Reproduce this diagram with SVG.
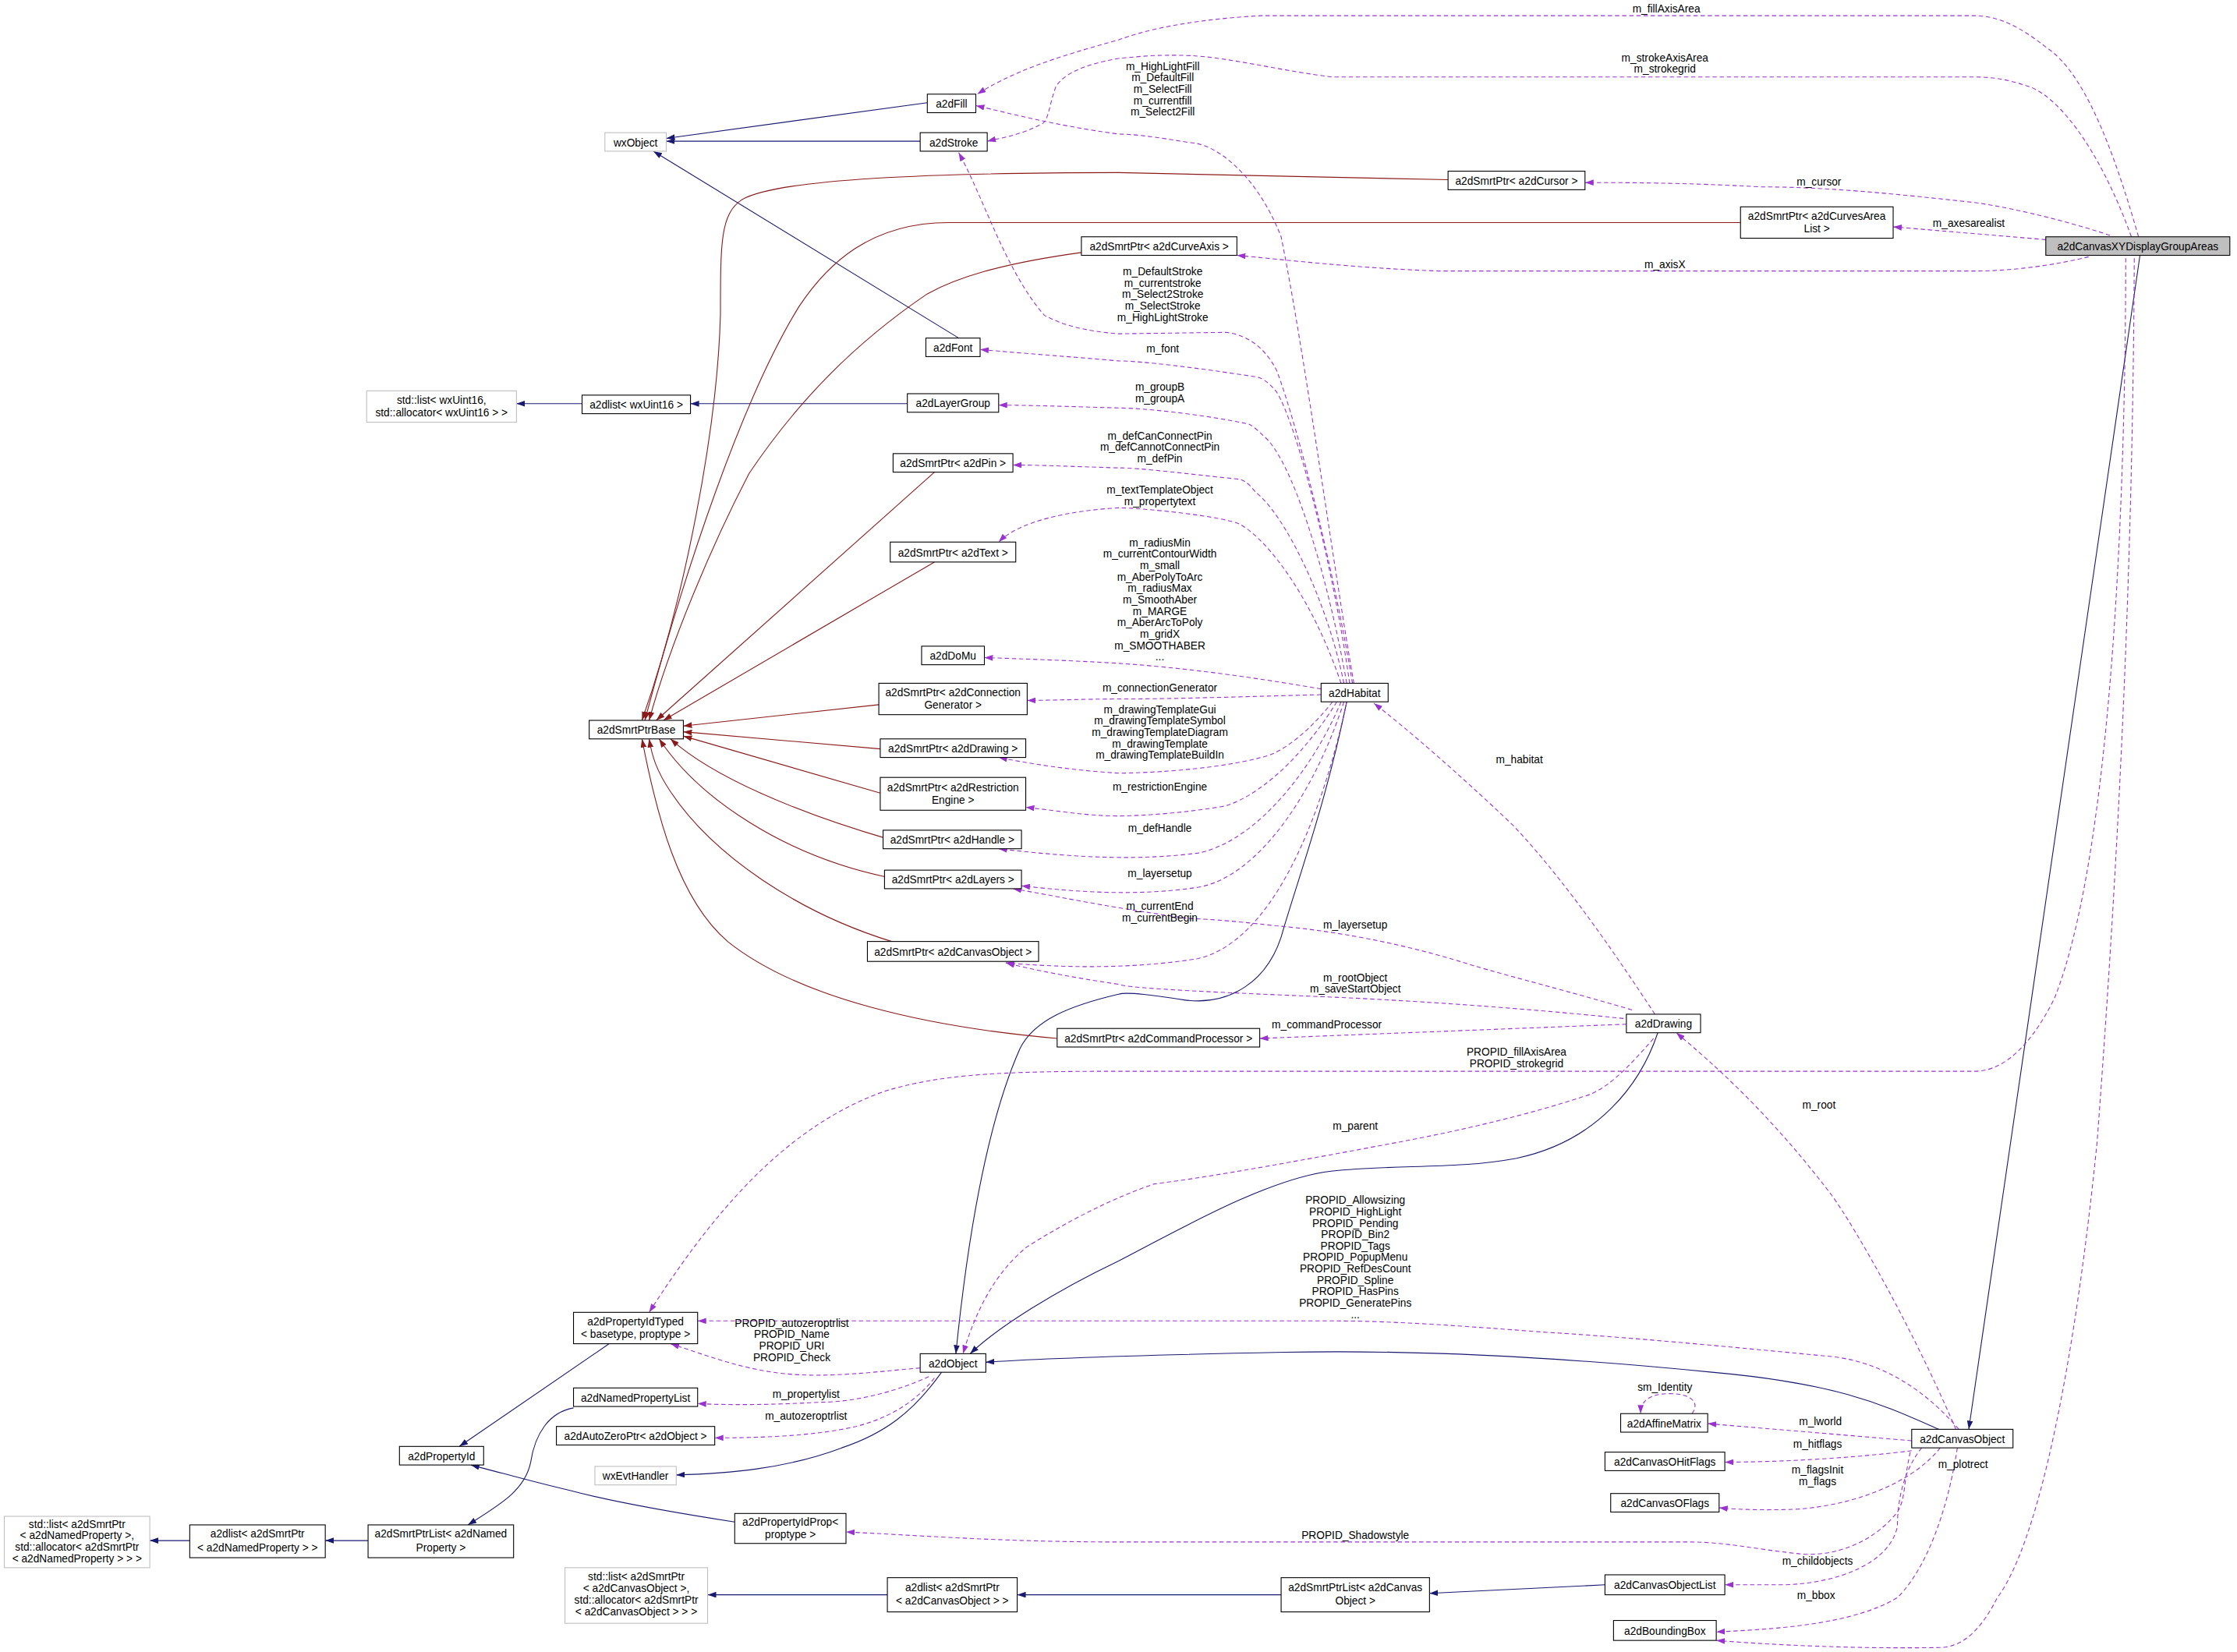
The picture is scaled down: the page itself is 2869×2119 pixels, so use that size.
<svg xmlns="http://www.w3.org/2000/svg" width="2869" height="2119" viewBox="0 0 2869 2119">
<style>
text{font-family:"Liberation Sans",Arial,sans-serif;font-size:7.5px;fill:#000;text-anchor:middle}
.n rect{fill:#fff;stroke:#000;stroke-width:0.6}
.g rect{fill:#fff;stroke:#bfbfbf;stroke-width:0.6}
.h rect{fill:#bfbfbf;stroke:#000;stroke-width:0.6}
.b{fill:none;stroke:#191970;stroke-width:0.6}
.r{fill:none;stroke:#8b1a1a;stroke-width:0.6}
.p{fill:none;stroke:#9a32cd;stroke-width:0.6;stroke-dasharray:3,2}
</style>
<defs>
<marker id="mb" viewBox="0 0 10 7" refX="10" refY="3.5" markerUnits="userSpaceOnUse" markerWidth="6" markerHeight="4.2" orient="auto"><path d="M0,0L10,3.5L0,7z" fill="#191970"/></marker>
<marker id="mr" viewBox="0 0 10 7" refX="10" refY="3.5" markerUnits="userSpaceOnUse" markerWidth="6" markerHeight="4.2" orient="auto"><path d="M0,0L10,3.5L0,7z" fill="#8b1a1a"/></marker>
<marker id="mp" viewBox="0 0 10 7" refX="10" refY="3.5" markerUnits="userSpaceOnUse" markerWidth="6" markerHeight="4.2" orient="auto"><path d="M0,0L10,3.5L0,7z" fill="#9a32cd"/></marker>
</defs>
<rect width="2869" height="2119" fill="#fff"/>
<g transform="scale(1.8297)">
<g id="connectors">
<g marker-end="url(#mb)">
<path class="b" d="M650,72 L467,97"/>
<path class="b" d="M645,99 L467,99"/>
<path class="b" d="M672,237 L458,106"/>
<path class="b" d="M408,283 L362,283"/>
<path class="b" d="M636,283 L484,283"/>
<path class="b" d="M944,492 C930,560 912,610 900,650 C890,690 860,705 830,701 C810,698 790,695 784,697 C750,705 725,715 715,735 C695,780 680,850 670,949"/>
<path class="b" d="M1162,724 C1150,760 1120,800 1063,812 C1020,820 980,816 933,821 C890,826 830,860 784,884 C740,905 700,930 680,949"/>
<path class="b" d="M1359,1002 C1320,985 1290,970 1200,962 C1100,952 1000,946 900,948 C800,950 720,953 691,955"/>
<path class="b" d="M660,962 C640,990 620,1005 590,1015 C550,1030 510,1033 474,1034"/>
<path class="b" d="M1500,179 L1380,1002"/>
<path class="b" d="M427,942 L322,1014"/>
<path class="b" d="M515,1067 C470,1060 430,1053 400,1045 C370,1038 350,1032 330,1027"/>
<path class="b" d="M402,987 C385,990 375,1005 372,1025 C368,1045 350,1055 328,1069"/>
<path class="b" d="M258,1080 L228,1080"/>
<path class="b" d="M133,1080 L105,1080"/>
<path class="b" d="M1125,1111 L1002,1117"/>
<path class="b" d="M898,1118 L713,1118"/>
<path class="b" d="M622,1118 L496,1118"/>
</g>
<g marker-end="url(#mr)">
<path class="r" d="M1015,126 L784,121 C620,121 540,128 520,140 C505,150 505,170 505,220 C503,300 480,420 450,505"/>
<path class="r" d="M1220,156 L665,156 C610,156 580,185 560,215 C520,280 480,400 452,505"/>
<path class="r" d="M758,177 C700,185 670,195 650,206 C600,240 560,280 525,332 C500,380 470,450 455,505"/>
<path class="r" d="M655,331 L460,505"/>
<path class="r" d="M655,394 L465,505"/>
<path class="r" d="M616,494 L479,509"/>
<path class="r" d="M617,525 L479,513"/>
<path class="r" d="M617,556 L479,516"/>
<path class="r" d="M622,588 C560,570 500,545 470,518"/>
<path class="r" d="M622,615 C550,600 490,560 462,518"/>
<path class="r" d="M625,660 C560,640 500,600 470,555 C460,540 457,530 455,518"/>
<path class="r" d="M741,728 C650,720 560,700 510,660 C475,630 460,570 450,518"/>
</g>
<g marker-end="url(#mp)">
<path class="p" d="M1499,166 C1480,100 1460,50 1434,33 C1415,18 1400,11 1384,11 L884,11 C830,14 800,22 784,28 C740,40 710,50 685,66"/>
<path class="p" d="M1494,166 C1470,100 1440,65 1420,60 C1405,55 1395,54 1384,54 L934,54 C900,50 860,40 834,39 C810,38 795,40 784,41 C760,45 745,52 740,61 C735,75 735,85 730,87 C715,95 700,97 692,99"/>
<path class="p" d="M1479,165 C1440,152 1400,144 1384,142 C1330,136 1280,131 1234,131 C1180,128 1140,128 1111,128"/>
<path class="p" d="M1434,168 L1327,159"/>
<path class="p" d="M1464,180 C1440,186 1410,190 1384,190 L1009,190 C950,188 900,182 867,179"/>
<path class="p" d="M1490,181 C1490,350 1480,600 1440,700 C1420,740 1400,751 1384,751 L784,751 C700,751 660,753 620,765 C550,790 500,850 455,920"/>
<path class="p" d="M1496,181 C1495,400 1485,600 1470,800 C1455,950 1430,1080 1400,1120 C1385,1150 1370,1155 1359,1155 C1300,1156 1240,1153 1203,1150"/>
<path class="p" d="M1340,1010 L1197,998"/>
<path class="p" d="M1340,1017 C1300,1022 1250,1025 1209,1025"/>
<path class="p" d="M1360,1015 C1340,1040 1300,1055 1260,1058 C1235,1059 1215,1058 1205,1057"/>
<path class="p" d="M1347,1015 C1335,1030 1330,1050 1330,1070 C1325,1095 1290,1110 1250,1111 L1209,1111"/>
<path class="p" d="M1372,1015 C1365,1060 1350,1100 1330,1120 C1300,1138 1250,1142 1203,1144"/>
<path class="p" d="M1339,1018 C1334,1040 1336,1050 1330,1060 C1310,1085 1280,1092 1259,1089 C1230,1086 1210,1081 1184,1081 L784,1081 C700,1081 640,1076 593,1074"/>
<path class="p" d="M1373,1002 C1350,975 1320,955 1284,951 C1220,945 1150,938 1084,934 C1030,930 980,926 934,926 L489,926"/>
<path class="p" d="M1371,1002 C1340,930 1300,860 1284,838 C1240,780 1200,745 1175,724"/>
<path class="p" d="M1186,991 C1192,983 1185,977 1170,977 C1155,977 1150,983 1150,991"/>
<path class="p" d="M1160,711 C1120,650 1090,610 1061,579 C1020,540 985,510 963,493"/>
<path class="p" d="M1144,708 C1100,695 1060,685 1033,677 C980,660 930,652 894,649 C860,645 840,644 834,644 C770,635 740,628 710,623"/>
<path class="p" d="M1138,714 C1070,707 1000,702 934,699 C860,696 790,693 784,690 C750,685 725,680 705,675"/>
<path class="p" d="M1140,718 L883,728"/>
<path class="p" d="M1159,728 C1140,750 1125,765 1109,769 C1060,785 1010,795 984,800 C920,812 850,825 809,830 C780,840 750,855 720,874 C700,890 685,915 675,949"/>
<path class="p" d="M645,959 C610,962 580,966 550,963 C520,960 495,950 470,942"/>
<path class="p" d="M651,965 C630,975 600,983 575,983 C540,985 510,985 489,984"/>
<path class="p" d="M655,966 C640,985 620,995 600,1000 C570,1007 530,1008 501,1008"/>
<path class="p" d="M949,479 C935,400 915,250 898,166 C880,120 850,100 834,100 C810,96 795,94 784,94 C740,88 710,80 684,74"/>
<path class="p" d="M948,479 C935,400 910,300 895,260 C885,240 870,234 859,233 L784,234 C760,232 745,228 732,221 C705,190 690,140 672,107"/>
<path class="p" d="M946,479 C935,400 910,300 895,275 C888,266 882,264 879,264 C840,258 800,253 784,253 C750,250 720,248 687,245"/>
<path class="p" d="M944,479 C930,400 905,320 885,305 C878,298 875,297 874,297 C840,290 800,286 784,286 C750,285 720,284 700,284"/>
<path class="p" d="M942,479 C930,420 900,360 880,345 C875,338 870,336 869,336 C830,332 800,328 784,328 C750,327 730,326 710,326"/>
<path class="p" d="M940,479 C920,420 890,380 870,368 C860,362 800,356 784,356 C750,358 715,365 700,380"/>
<path class="p" d="M926,483 C880,475 830,468 784,465 C750,463 720,462 690,461"/>
<path class="p" d="M926,487 C880,488 830,490 784,490 C760,490 740,491 720,491"/>
<path class="p" d="M934,492 C920,510 900,528 884,531 C850,540 800,542 784,542 C750,540 720,535 700,531"/>
<path class="p" d="M937,492 C920,520 890,555 859,565 C830,570 800,572 784,572 C760,572 740,568 719,566"/>
<path class="p" d="M940,492 C920,540 880,590 840,598 C800,603 760,602 700,595"/>
<path class="p" d="M942,492 C920,560 880,615 840,622 C800,628 760,626 716,621"/>
<path class="p" d="M944,492 C925,580 890,660 840,672 C790,680 740,678 705,675"/>
</g>
<g id="labels">
<text x="1168" y="9">m_fillAxisArea</text>
<text x="1167" y="43">m_strokeAxisArea</text><text x="1167" y="51">m_strokegrid</text>
<text x="815" y="49">m_HighLightFill</text><text x="815" y="57">m_DefaultFill</text><text x="815" y="65">m_SelectFill</text><text x="815" y="73">m_currentfill</text><text x="815" y="81">m_Select2Fill</text>
<text x="1275" y="130">m_cursor</text>
<text x="1380" y="159">m_axesarealist</text>
<text x="1167" y="188">m_axisX</text>
<text x="815" y="193">m_DefaultStroke</text><text x="815" y="201">m_currentstroke</text><text x="815" y="209">m_Select2Stroke</text><text x="815" y="217">m_SelectStroke</text><text x="815" y="225">m_HighLightStroke</text>
<text x="815" y="247">m_font</text>
<text x="813" y="274">m_groupB</text><text x="813" y="282">m_groupA</text>
<text x="813" y="308">m_defCanConnectPin</text><text x="813" y="316">m_defCannotConnectPin</text><text x="813" y="324">m_defPin</text>
<text x="813" y="346">m_textTemplateObject</text><text x="813" y="354">m_propertytext</text>
<text x="813" y="383">m_radiusMin</text><text x="813" y="391">m_currentContourWidth</text><text x="813" y="399">m_small</text><text x="813" y="407">m_AberPolyToArc</text><text x="813" y="415">m_radiusMax</text><text x="813" y="423">m_SmoothAber</text><text x="813" y="431">m_MARGE</text><text x="813" y="439">m_AberArcToPoly</text><text x="813" y="447">m_gridX</text><text x="813" y="455">m_SMOOTHABER</text><text x="813" y="463">...</text>
<text x="813" y="485">m_connectionGenerator</text>
<text x="813" y="500">m_drawingTemplateGui</text><text x="813" y="508">m_drawingTemplateSymbol</text><text x="813" y="516">m_drawingTemplateDiagram</text><text x="813" y="524">m_drawingTemplate</text><text x="813" y="532">m_drawingTemplateBuildIn</text>
<text x="813" y="554">m_restrictionEngine</text>
<text x="813" y="583">m_defHandle</text>
<text x="813" y="615">m_layersetup</text>
<text x="813" y="638">m_currentEnd</text><text x="813" y="646">m_currentBegin</text>
<text x="1065" y="535">m_habitat</text>
<text x="950" y="651">m_layersetup</text>
<text x="950" y="688">m_rootObject</text><text x="950" y="696">m_saveStartObject</text>
<text x="930" y="721">m_commandProcessor</text>
<text x="1063" y="740">PROPID_fillAxisArea</text><text x="1063" y="748">PROPID_strokegrid</text>
<text x="1275" y="777">m_root</text>
<text x="950" y="792">m_parent</text>
<text x="950" y="844">PROPID_Allowsizing</text><text x="950" y="852">PROPID_HighLight</text><text x="950" y="860">PROPID_Pending</text><text x="950" y="868">PROPID_Bin2</text><text x="950" y="876">PROPID_Tags</text><text x="950" y="884">PROPID_PopupMenu</text><text x="950" y="892">PROPID_RefDesCount</text><text x="950" y="900">PROPID_Spline</text><text x="950" y="908">PROPID_HasPins</text><text x="950" y="916">PROPID_GeneratePins</text><text x="950" y="924">...</text>
<text x="555" y="930">PROPID_autozeroptrlist</text><text x="555" y="938">PROPID_Name</text><text x="555" y="946">PROPID_URI</text><text x="555" y="954">PROPID_Check</text>
<text x="1167" y="975">sm_Identity</text>
<text x="565" y="980">m_propertylist</text>
<text x="565" y="995">m_autozeroptrlist</text>
<text x="1276" y="999">m_lworld</text>
<text x="1274" y="1015">m_hitflags</text>
<text x="1274" y="1033">m_flagsInit</text><text x="1274" y="1041">m_flags</text>
<text x="1376" y="1029">m_plotrect</text>
<text x="950" y="1079">PROPID_Shadowstyle</text>
<text x="1274" y="1097">m_childobjects</text>
<text x="1273" y="1121">m_bbox</text>
</g>
</g>
<g id="n_wxObject" class="g"><rect x="424" y="93" width="43" height="13"/><text x="445.5" y="102.5">wxObject</text></g>
<g id="n_a2dFill" class="n"><rect x="650" y="66" width="34" height="13"/><text x="667" y="75.5">a2dFill</text></g>
<g id="n_a2dStroke" class="n"><rect x="645" y="93" width="47" height="13"/><text x="668.5" y="102.5">a2dStroke</text></g>
<g id="n_cursor" class="n"><rect x="1015" y="120" width="96" height="13"/><text x="1063" y="129.5">a2dSmrtPtr&lt; a2dCursor &gt;</text></g>
<g id="n_curvesarea" class="n"><rect x="1220" y="145" width="107" height="22"/><text x="1273.5" y="154">a2dSmrtPtr&lt; a2dCurvesArea</text><text x="1273.5" y="163">List &gt;</text></g>
<g id="n_xy" class="h"><rect x="1434" y="166" width="129" height="13"/><text x="1498.5" y="175.5">a2dCanvasXYDisplayGroupAreas</text></g>
<g id="n_curveaxis" class="n"><rect x="758" y="166" width="109" height="13"/><text x="812.5" y="175.5">a2dSmrtPtr&lt; a2dCurveAxis &gt;</text></g>
<g id="n_font" class="n"><rect x="649" y="237" width="38" height="13"/><text x="668" y="246.5">a2dFont</text></g>
<g id="n_stdlist16" class="g"><rect x="257" y="274" width="105" height="22"/><text x="309.5" y="283">std::list&lt; wxUint16,</text><text x="309.5" y="292">std::allocator&lt; wxUint16 &gt; &gt;</text></g>
<g id="n_a2dlist16" class="n"><rect x="408" y="277" width="76" height="13"/><text x="446" y="286.5">a2dlist&lt; wxUint16 &gt;</text></g>
<g id="n_layergroup" class="n"><rect x="636" y="276" width="64" height="13"/><text x="668" y="285.5">a2dLayerGroup</text></g>
<g id="n_pin" class="n"><rect x="626" y="318" width="84" height="13"/><text x="668" y="327.5">a2dSmrtPtr&lt; a2dPin &gt;</text></g>
<g id="n_text" class="n"><rect x="624" y="380" width="88" height="14"/><text x="668" y="390">a2dSmrtPtr&lt; a2dText &gt;</text></g>
<g id="n_domu" class="n"><rect x="646" y="453" width="44" height="13"/><text x="668" y="462.5">a2dDoMu</text></g>
<g id="n_conngen" class="n"><rect x="616" y="479" width="104" height="22"/><text x="668" y="488">a2dSmrtPtr&lt; a2dConnection</text><text x="668" y="497">Generator &gt;</text></g>
<g id="n_base" class="n"><rect x="413" y="505" width="66" height="13"/><text x="446" y="514.5">a2dSmrtPtrBase</text></g>
<g id="n_drawingptr" class="n"><rect x="617" y="518" width="102" height="13"/><text x="668" y="527.5">a2dSmrtPtr&lt; a2dDrawing &gt;</text></g>
<g id="n_restriction" class="n"><rect x="617" y="545" width="102" height="23"/><text x="668" y="554.5">a2dSmrtPtr&lt; a2dRestriction</text><text x="668" y="563.5">Engine &gt;</text></g>
<g id="n_handle" class="n"><rect x="619" y="582" width="97" height="13"/><text x="667.5" y="591.5">a2dSmrtPtr&lt; a2dHandle &gt;</text></g>
<g id="n_layers" class="n"><rect x="620" y="610" width="96" height="13"/><text x="668" y="619.5">a2dSmrtPtr&lt; a2dLayers &gt;</text></g>
<g id="n_canvasobjptr" class="n"><rect x="608" y="660" width="120" height="14"/><text x="668" y="670">a2dSmrtPtr&lt; a2dCanvasObject &gt;</text></g>
<g id="n_habitat" class="n"><rect x="926" y="479" width="47" height="13"/><text x="949.5" y="488.5">a2dHabitat</text></g>
<g id="n_cmdproc" class="n"><rect x="741" y="721" width="142" height="13"/><text x="812" y="730.5">a2dSmrtPtr&lt; a2dCommandProcessor &gt;</text></g>
<g id="n_drawing" class="n"><rect x="1140" y="711" width="52" height="13"/><text x="1166" y="720.5">a2dDrawing</text></g>
<g id="n_propidtyped" class="n"><rect x="402" y="920" width="87" height="22"/><text x="445.5" y="929">a2dPropertyIdTyped</text><text x="445.5" y="938">&lt; basetype, proptype &gt;</text></g>
<g id="n_object" class="n"><rect x="645" y="949" width="46" height="13"/><text x="668" y="958.5">a2dObject</text></g>
<g id="n_namedproplist" class="n"><rect x="402" y="973" width="87" height="13"/><text x="445.5" y="982.5">a2dNamedPropertyList</text></g>
<g id="n_autozero" class="n"><rect x="390" y="1000" width="111" height="13"/><text x="445.5" y="1009.5">a2dAutoZeroPtr&lt; a2dObject &gt;</text></g>
<g id="n_propid" class="n"><rect x="280" y="1014" width="59" height="13"/><text x="309.5" y="1023.5">a2dPropertyId</text></g>
<g id="n_evthandler" class="g"><rect x="417" y="1028" width="57" height="13"/><text x="445.5" y="1037.5">wxEvtHandler</text></g>
<g id="n_stdlistnamed" class="g"><rect x="3" y="1063" width="102" height="36"/><text x="54" y="1071">std::list&lt; a2dSmrtPtr</text><text x="54" y="1079">&lt; a2dNamedProperty &gt;,</text><text x="54" y="1087">std::allocator&lt; a2dSmrtPtr</text><text x="54" y="1095">&lt; a2dNamedProperty &gt; &gt; &gt;</text></g>
<g id="n_a2dlistnamed" class="n"><rect x="133" y="1069" width="95" height="23"/><text x="180.5" y="1078">a2dlist&lt; a2dSmrtPtr</text><text x="180.5" y="1087.5">&lt; a2dNamedProperty &gt; &gt;</text></g>
<g id="n_smrtptrlistnamed" class="n"><rect x="258" y="1069" width="102" height="23"/><text x="309" y="1078">a2dSmrtPtrList&lt; a2dNamed</text><text x="309" y="1087.5">Property &gt;</text></g>
<g id="n_propidprop" class="n"><rect x="515" y="1061" width="78" height="21"/><text x="554" y="1069.5">a2dPropertyIdProp&lt;</text><text x="554" y="1078.5">proptype &gt;</text></g>
<g id="n_stdlistcanvas" class="g"><rect x="396" y="1099" width="100" height="39"/><text x="446" y="1108">std::list&lt; a2dSmrtPtr</text><text x="446" y="1116">&lt; a2dCanvasObject &gt;,</text><text x="446" y="1124">std::allocator&lt; a2dSmrtPtr</text><text x="446" y="1132.5">&lt; a2dCanvasObject &gt; &gt; &gt;</text></g>
<g id="n_a2dlistcanvas" class="n"><rect x="622" y="1106" width="91" height="24"/><text x="667.5" y="1115.5">a2dlist&lt; a2dSmrtPtr</text><text x="667.5" y="1125">&lt; a2dCanvasObject &gt; &gt;</text></g>
<g id="n_smrtptrlistcanvas" class="n"><rect x="898" y="1106" width="104" height="24"/><text x="950" y="1115.5">a2dSmrtPtrList&lt; a2dCanvas</text><text x="950" y="1125">Object &gt;</text></g>
<g id="n_canvasobjlist" class="n"><rect x="1125" y="1104" width="84" height="14"/><text x="1167" y="1114">a2dCanvasObjectList</text></g>
<g id="n_bbox" class="n"><rect x="1131" y="1136" width="72" height="14"/><text x="1167" y="1146">a2dBoundingBox</text></g>
<g id="n_canvasobj" class="n"><rect x="1340" y="1002" width="71" height="13"/><text x="1375.5" y="1011.5">a2dCanvasObject</text></g>
<g id="n_affine" class="n"><rect x="1136" y="991" width="61" height="13"/><text x="1166.5" y="1000.5">a2dAffineMatrix</text></g>
<g id="n_hitflags" class="n"><rect x="1125" y="1018" width="84" height="13"/><text x="1167" y="1027.5">a2dCanvasOHitFlags</text></g>
<g id="n_oflags" class="n"><rect x="1129" y="1047" width="76" height="13"/><text x="1167" y="1056.5">a2dCanvasOFlags</text></g>
</g>
</svg>
